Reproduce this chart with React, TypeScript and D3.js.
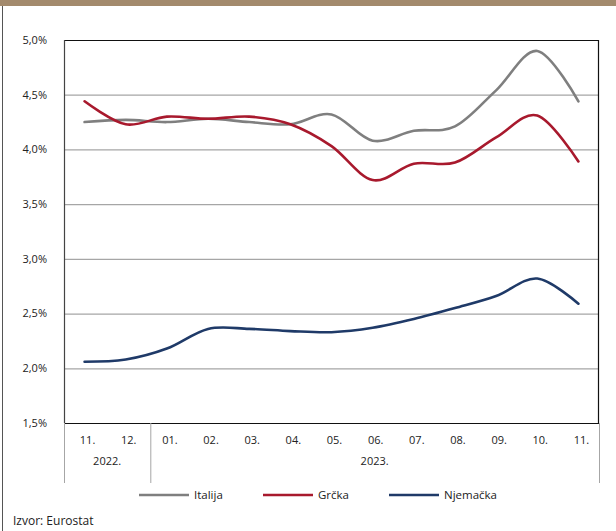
import * as React from 'react';
import * as d3 from 'd3';

const months = ['11.', '12.', '01.', '02.', '03.', '04.', '05.', '06.', '07.', '08.', '09.', '10.', '11.'];
const years = [
  { label: '2022.', from: 0, to: 2 },
  { label: '2023.', from: 2, to: 13 },
];
const italija = [4.25, 4.27, 4.25, 4.28, 4.25, 4.23, 4.32, 4.08, 4.17, 4.21, 4.54, 4.90, 4.44];
const grcka = [4.44, 4.23, 4.30, 4.28, 4.30, 4.23, 4.03, 3.72, 3.87, 3.88, 4.11, 4.31, 3.89];
const njemacka = [2.06, 2.08, 2.18, 2.36, 2.36, 2.34, 2.33, 2.37, 2.45, 2.55, 2.66, 2.82, 2.59];
const yTicks = [1.5, 2.0, 2.5, 3.0, 3.5, 4.0, 4.5, 5.0];

const series = [
  { name: 'Italija', values: italija, color: '#7f7f7f' },
  { name: 'Grčka', values: grcka, color: '#a8192d' },
  { name: 'Njemačka', values: njemacka, color: '#1f3a68' },
];

const W = 616;
const H = 531;
const margin = { top: 40, right: 17, bottom: 108, left: 64 };
const font = "'Open Sans', 'Noto Sans', sans-serif";

export default function App() {
  const x = d3.scaleBand<number>()
    .domain(d3.range(months.length))
    .range([margin.left, W - margin.right]);
  const y = d3.scaleLinear()
    .domain([1.5, 5.0])
    .range([H - margin.bottom, margin.top]);
  const fmt = (v: number) => d3.format('.1f')(v).replace('.', ',') + '%';

  const line = d3.line<number>()
    .x((d, i) => (x(i) as number) + x.bandwidth() / 2)
    .y(d => y(d))
    .curve(d3.curveCatmullRom.alpha(0));

  const bottom = y(1.5);
  const left = margin.left;
  const right = W - margin.right;
  const sepBottom = bottom + 60;
  // group edges; the inner divider sits a little right of the band edge, as in the source
  const edge = (i: number) => (i >= months.length ? right : i === 0 ? left : (x(i) as number) + 4);

  const legendX = [139, 263, 389];

  return (
    <svg width={W} height={H} style={{ position: 'absolute', left: 0, top: 0, background: '#fff' }}>
      <rect x={0} y={0} width={W} height={6} fill="#a38a6d" />
      <line x1={2.5} x2={2.5} y1={6} y2={H} stroke="#555" strokeWidth={1} />

      {yTicks.filter(t => t > 1.5 && t < 5.0).map(t => (
        <line key={t} x1={left} x2={right} y1={y(t) + 0.5} y2={y(t) + 0.5} stroke="#a6a6a6" strokeWidth={1.2} />
      ))}
      {yTicks.map(t => (
        <text key={t} x={47} y={y(t)} dy="0.35em" textAnchor="end" fontFamily={font} fontSize={11} fill="#222">
          {fmt(t)}
        </text>
      ))}

      <line x1={left} x2={right} y1={margin.top + 0.5} y2={margin.top + 0.5} stroke="#111" strokeWidth={1.2} />
      <line x1={right - 0.5} x2={right - 0.5} y1={margin.top} y2={bottom} stroke="#111" strokeWidth={1.2} />

      {series.map(s => (
        <path key={s.name} d={line(s.values) || ''} fill="none" stroke={s.color} strokeWidth={2.6} strokeLinecap="round" />
      ))}

      <line x1={left + 0.5} x2={left + 0.5} y1={margin.top} y2={bottom} stroke="#444" strokeWidth={1.2} />
      <line x1={left} x2={right} y1={bottom + 0.5} y2={bottom + 0.5} stroke="#111" strokeWidth={1.2} />

      {[0, 2, 13].map(i => (
        <line key={i} x1={edge(i) + 0.5} x2={edge(i) + 0.5} y1={bottom} y2={sepBottom} stroke="#a6a6a6" strokeWidth={1} />
      ))}

      {months.map((m, i) => (
        <text key={i} x={(x(i) as number) + x.bandwidth() / 2 + 3} y={bottom + 21} textAnchor="middle" fontFamily={font} fontSize={11} fill="#222">
          {m}
        </text>
      ))}
      {years.map(yr => (
        <text key={yr.label} x={(edge(yr.from) + edge(yr.to)) / 2} y={bottom + 42} textAnchor="middle" fontFamily={font} fontSize={11} fill="#222">
          {yr.label}
        </text>
      ))}

      {series.map((s, i) => (
        <g key={s.name}>
          <line x1={legendX[i]} x2={legendX[i] + 50} y1={495} y2={495} stroke={s.color} strokeWidth={2.6} />
          <text x={legendX[i] + 55} y={495} dy="0.35em" fontFamily={font} fontSize={11.5} fill="#222">
            {s.name}
          </text>
        </g>
      ))}

      <text x={13} y={521} dy="0.35em" fontFamily={font} fontSize={12} fill="#222">Izvor: Eurostat</text>
    </svg>
  );
}
